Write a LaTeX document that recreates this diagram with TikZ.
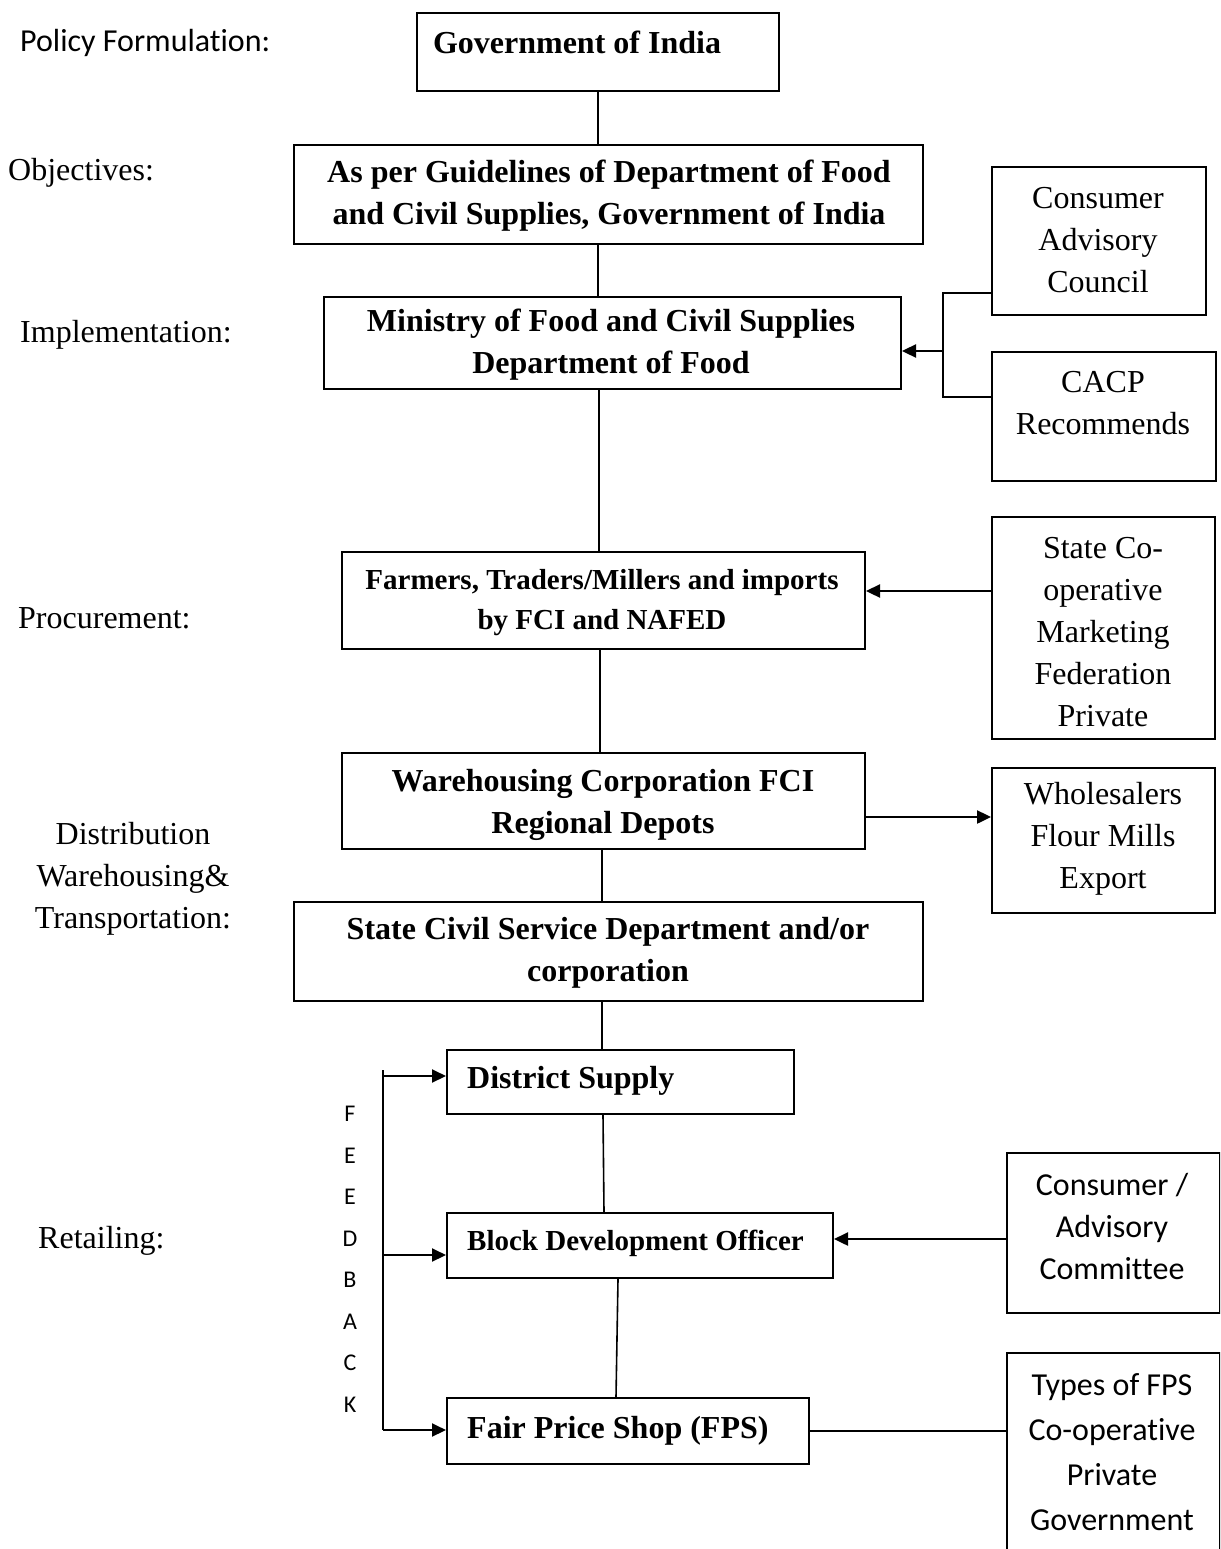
\documentclass[tikz,border=0pt]{standalone}
\usepackage{fontspec}
\setmainfont{Liberation Serif}
\newfontfamily\calib[Ligatures=NoCommon]{Carlito}
\usetikzlibrary{arrows.meta}
\begin{document}
\begin{tikzpicture}[x=1pt,y=-1pt,
 box/.style={draw, line width=2pt, inner sep=0pt, anchor=north west},
 btxt/.style={font=\fontsize{32}{42}\selectfont\bfseries, align=center, inner sep=0pt},
 bstxt/.style={font=\fontsize{29}{40}\selectfont\bfseries, align=center, inner sep=0pt},
 rtxt/.style={font=\fontsize{32}{42}\selectfont, align=center, inner sep=0pt},
 ctxt/.style={font=\calib\fontsize{32}{42}\selectfont, align=center, inner sep=0pt},
 fbtxt/.style={font=\calib\fontsize{24}{28}\selectfont, inner sep=0pt},
 conn/.style={line width=1.6pt},
 arr/.style={line width=2.4pt, -{Triangle[length=14pt,width=13pt]}},
]
\useasboundingbox (0,0) rectangle (1220,1549);
\clip (0,0) rectangle (1220,1549);

% main column boxes
\node[box, minimum width=362pt, minimum height=78pt] (gov) at (416,12) {};
\node[box, minimum width=629pt, minimum height=99pt] (guide) at (293,144) {};
\node[box, minimum width=577pt, minimum height=92pt] (min) at (323,296) {};
\node[box, minimum width=523pt, minimum height=97pt] (farm) at (341,551) {};
\node[box, minimum width=523pt, minimum height=96pt] (ware) at (341,752) {};
\node[box, minimum width=629pt, minimum height=99pt] (state) at (293,901) {};
\node[box, minimum width=347pt, minimum height=64pt] (dist) at (446,1049) {};
\node[box, minimum width=386pt, minimum height=65pt] (bdo) at (446,1212) {};
\node[box, minimum width=362pt, minimum height=66pt] (fps) at (446,1397) {};

% side boxes
\node[box, minimum width=214pt, minimum height=148pt] (cac) at (991,166) {};
\node[box, minimum width=224pt, minimum height=129pt] (cacp) at (991,351) {};
\node[box, minimum width=223pt, minimum height=222pt] (scm) at (991,516) {};
\node[box, minimum width=223pt, minimum height=145pt] (whole) at (991,767) {};
\node[box, minimum width=213pt, minimum height=160pt] (cadc) at (1006,1152) {};
\node[box, minimum width=213pt, minimum height=230pt] (types) at (1006,1352) {};

% texts in boxes
\node[btxt] (tgov) at (577,42) {Government of India};
\node[btxt] (tguide) at (609,196) {As per Guidelines of Department of Food\\and Civil Supplies, Government of India};
\node[btxt] (tmin) at (611,345) {Ministry of Food and Civil Supplies\\Department of Food};
\node[bstxt] (tfarm) at (602,603) {Farmers, Traders/Millers and imports\\by FCI and NAFED};
\node[btxt] (tware) at (603,805) {Warehousing Corporation FCI\\Regional Depots};
\node[btxt] (tstate) at (608,953) {State Civil Service Department and/or\\corporation};
\node[btxt, anchor=west] (tdist) at (467,1081) {District Supply};
\node[bstxt, anchor=west] (tbdo) at (467,1243) {Block Development Officer};
\node[btxt, anchor=west] (tfps) at (467,1431) {Fair Price Shop (FPS)};

\node[rtxt] (tcac) at (1098,240) {Consumer\\Advisory\\Council};
\node[rtxt] (tcacp) at (1103,403) {CACP\\Recommends};
\node[rtxt] (tscm) at (1103,632) {State Co-\\operative\\Marketing\\Federation\\Private};
\node[rtxt] (twhole) at (1103,839) {Wholesalers\\Flour Mills\\Export};
\node[ctxt] (tcadc) at (1112,1226) {Consumer /\\Advisory\\Committee};
\node[ctxt, font=\calib\fontsize{32}{45}\selectfont] (ttypes) at (1112,1452) {Types of FPS\\Co-operative\\Private\\Government};

% left labels
\node[ctxt, anchor=west] (lpol) at (20,43) {Policy Formulation:};
\node[rtxt, anchor=west] (lobj) at (8,173) {Objectives:};
\node[rtxt, anchor=west] (limp) at (20,335) {Implementation:};
\node[rtxt, anchor=west] (lpro) at (18,618) {Procurement:};
\node[rtxt] (ldis) at (133,879) {Distribution\\Warehousing\&\\Transportation:};
\node[rtxt, anchor=west] (lret) at (38,1241) {Retailing:};
\foreach \ch [count=\i from 0] in {F,E,E,D,B,A,C,K}
  \node[fbtxt] (fb\i) at (350,1114+41.5*\i) {\ch};

% vertical connectors
\draw[conn] (gov.south) -- (gov.south |- guide.north);
\draw[conn] (gov.south |- guide.south) -- (gov.south |- min.north);
\draw[conn] ([xshift=1pt]gov.south |- min.south) -- ([xshift=1pt]gov.south |- farm.north);
\draw[conn] ([xshift=-3.5pt]farm.south) -- ([xshift=-3.5pt]ware.north);
\draw[conn] ([xshift=-1.5pt]ware.south) -- ([xshift=-1.5pt]ware.south |- state.north);
\draw[conn] ([xshift=-6.5pt]state.south) -- ([xshift=-6.5pt]state.south |- dist.north);
\draw[conn] ([xshift=-17.5pt]dist.south) -- ([xshift=-36pt]bdo.north);
\draw[conn] ([xshift=-22pt]bdo.south) -- ([xshift=-12pt]fps.north);
\draw[conn] (fps.east) -- (fps.east -| types.west);

% CAC / CACP bracket
\coordinate (j1) at (943,293);
\coordinate (j2) at (943,397);
\coordinate (j3) at (943,351);
\draw[line width=2.4pt] (cac.west |- j1) -- (j1) -- (j2) -- (cacp.west |- j2);
\draw[arr] (j3) -- (min.east |- j3);

% other arrows
\coordinate (a2) at (0,591);
\draw[arr] (scm.west |- a2) -- (farm.east |- a2);
\coordinate (a3) at (0,817);
\draw[arr] (ware.east |- a3) -- (whole.west |- a3);
\coordinate (a4) at (0,1239);
\draw[arr] (cadc.west |- a4) -- (bdo.east |- a4);

% feedback loop
\coordinate (f0) at (383,1070);
\coordinate (f1) at (383,1076);
\coordinate (f2) at (383,1255);
\coordinate (f3) at (383,1430);
\draw[line width=2pt] (f0) -- (f3);
\draw[arr, line width=2pt] (f1) -- (dist.west |- f1);
\draw[arr, line width=2pt] (f2) -- (bdo.west |- f2);
\draw[arr, line width=2pt] (f3) -- (fps.west |- f3);
\end{tikzpicture}
\end{document}
